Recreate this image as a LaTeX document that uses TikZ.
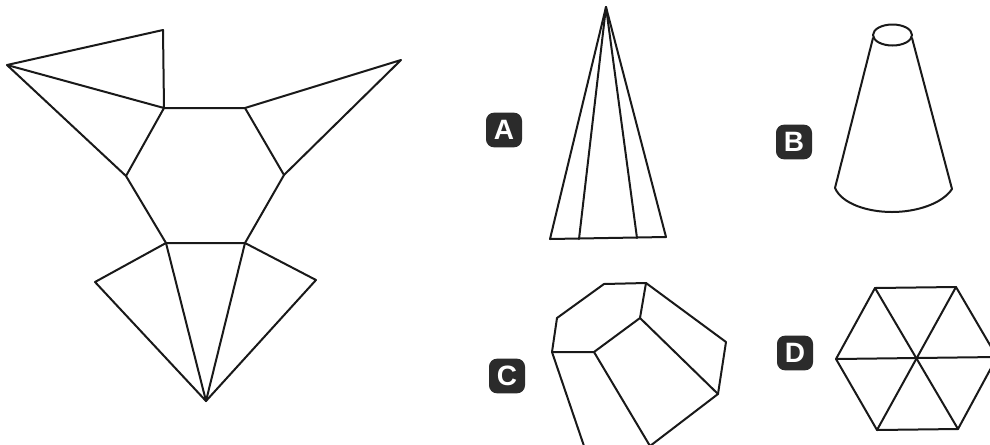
\documentclass[tikz,border=0pt]{standalone}
\usepackage{fontspec}
\setmainfont{Liberation Sans}
\definecolor{ink}{gray}{0.1}
\definecolor{badge}{gray}{0.17}
\tikzset{
  edge/.style={draw=ink,line width=1.5pt,line join=round,line cap=round},
  badgebox/.style={fill=badge,rounded corners=6pt,minimum width=27pt,minimum height=26pt,inner sep=0pt,
    text=white,font=\bfseries\fontsize{21pt}{21pt}\selectfont}
}
\begin{document}
\begin{tikzpicture}[x=0.75pt,y=-0.75pt]
\path[use as bounding box] (0,0) rectangle (990,444);
\clip (0,0) rectangle (990,444);
% net
\coordinate (a) at (7,65); \coordinate (b) at (163,30); \coordinate (c) at (164,108);
\coordinate (d) at (245,108); \coordinate (e) at (401,60); \coordinate (f) at (284,175);
\coordinate (g) at (245,243); \coordinate (h) at (166,243); \coordinate (i) at (126,176);
\coordinate (p) at (206,401); \coordinate (l) at (95,282); \coordinate (r) at (316,280);
\draw[edge] (c) -- (d) -- (f) -- (g) -- (h) -- (i) -- cycle;
\draw[edge] (c) -- (b) -- (a) -- (c);
\draw[edge] (a) -- (i);
\draw[edge] (d) -- (e) -- (f);
\draw[edge] (h) -- (l) -- (p) -- (r) -- (g);
\draw[edge] (h) -- (p) -- (g);
% A
\coordinate (Aa) at (606,7); \coordinate (Al) at (550,239); \coordinate (Ar) at (666,237);
\coordinate (Ai) at (579,239); \coordinate (Aj) at (637,238);
\draw[edge] (Aa) -- (Al) -- (Ar) -- cycle;
\draw[edge] (Aa) -- (Ai);
\draw[edge] (Aa) -- (Aj);
% B
\coordinate (Bl) at (835,188); \coordinate (Br) at (952,189);
\coordinate (Bt) at (873,38); \coordinate (Bu) at (912,38);
\draw[edge] (892.5,35) ellipse [x radius=19.5,y radius=10.5];
\draw[edge] (Bt) -- (Bl) .. controls (842,204) and (868,212) .. (892,212) .. controls (916,212) and (942,204) .. (Br) -- (Bu);
% C
\coordinate (C1) at (604,284); \coordinate (C2) at (646,283); \coordinate (C3) at (557,318);
\coordinate (C4) at (552,352); \coordinate (C5) at (594,352); \coordinate (C6) at (640,318);
\coordinate (C7) at (726,342); \coordinate (C8) at (718,394); \coordinate (C9) at (584,446);
\coordinate (C10) at (650,446);
\draw[edge] (C9) -- (C4) -- (C3) -- (C1) -- (C2) -- (C7) -- (C8) -- (C10);
\draw[edge] (C4) -- (C5) -- (C6) -- (C2);
\draw[edge] (C5) -- (C10);
\draw[edge] (C6) -- (C8);
% D
\coordinate (Do) at (917,359); \coordinate (D1) at (875,288); \coordinate (D2) at (956,287);
\coordinate (D3) at (997,357); \coordinate (D4) at (958,429); \coordinate (D5) at (877,430);
\coordinate (D6) at (836,359);
\draw[edge] (D1) -- (D2) -- (D3) -- (D4) -- (D5) -- (D6) -- cycle;
\draw[edge] (D1) -- (D4);
\draw[edge] (D2) -- (D5);
\draw[edge] (D3) -- (D6);
% labels
\node[badgebox] (la) at (504,130) {A};
\node[badgebox] (lb) at (794,142) {B};
\node[badgebox] (lc) at (507,376) {C};
\node[badgebox] (ld) at (795,353) {D};
\end{tikzpicture}
\end{document}
